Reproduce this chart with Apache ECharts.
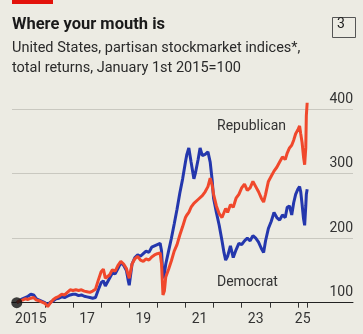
<!DOCTYPE html>
<html><head><meta charset="utf-8">
<script src="https://cdn.jsdelivr.net/npm/echarts@6/dist/echarts.min.js"></script>
<style>html,body{margin:0;padding:0;background:#ecebe3;}#c{width:363px;height:334px;}</style>
</head><body><div id="c"></div>
<script>
// Decimal years
var dates = [2015.00,2015.10,2015.20,2015.30,2015.40,2015.50,2015.60,2015.70,2015.80,2015.90,
2016.00,2016.10,2016.20,2016.30,2016.40,2016.50,2016.60,2016.70,2016.80,2016.90,
2017.00,2017.10,2017.20,2017.30,2017.40,2017.50,2017.60,2017.70,2017.80,2017.90,
2018.00,2018.08,2018.15,2018.30,2018.40,2018.50,2018.60,2018.70,2018.75,2018.80,2018.90,2018.97,
2019.00,2019.10,2019.20,2019.30,2019.40,2019.50,2019.60,2019.70,2019.80,2019.90,
2020.00,2020.10,2020.15,2020.20,2020.25,2020.30,2020.40,2020.50,2020.60,2020.70,2020.80,2020.90,
2021.00,2021.05,2021.12,2021.20,2021.30,2021.35,2021.45,2021.52,2021.60,2021.70,2021.80,2021.88,2021.95,
2022.00,2022.10,2022.20,2022.30,2022.37,2022.43,2022.50,2022.60,2022.70,2022.80,2022.90,
2023.00,2023.10,2023.20,2023.30,2023.40,2023.50,2023.60,2023.70,2023.78,2023.85,2023.95,
2024.05,2024.15,2024.25,2024.35,2024.45,2024.55,2024.62,2024.70,2024.78,2024.85,2024.92,
2025.00,2025.06,2025.10,2025.15,2025.20,2025.24,2025.28,2025.30,2025.33];
var republican = [100,103,104,106,105,107,108,104,103,101,
99,94,100,105,108,110,113,112,116,120,
119,120,119,120,118,117,116,118,121,135,
148,152,138,143,151,149,158,164,166,160,153,142,
138,160,168,172,166,164,168,166,171,174,
176,177,160,112,118,140,152,165,180,190,205,218,
232,236,240,248,254,257,260,262,266,272,280,293,282,
268,250,238,232,235,246,240,252,248,262,268,
278,284,274,278,288,280,272,262,256,268,288,
296,304,310,318,326,322,332,340,344,352,362,
368,374,362,348,326,314,340,390,410];
var democrat = [100,103,106,108,110,113,112,106,104,102,
100,97,101,103,106,107,109,108,110,112,
113,113,111,112,110,109,108,107,108,120,
131,134,126,138,146,145,153,162,164,158,150,133,
127,160,170,174,172,176,180,178,186,188,
190,192,180,138,145,160,180,200,222,245,270,292,
318,330,340,318,292,300,322,340,328,330,334,318,290,
262,240,220,196,178,166,172,188,170,182,192,
190,196,200,196,204,200,194,184,178,196,215,
226,240,232,228,236,232,248,250,236,255,268,
276,280,272,252,230,220,250,268,276];
var yTicks = [100, 200, 300, 400];
var xTickYears = [2016,2017,2018,2019,2020,2021,2022,2023,2024,2025,2025.33];
var xLabelPos = [2015.5, 2017.5, 2019.5, 2021.5, 2023.5, 2025.17];
var xLabelText = ["2015", "17", "19", "21", "23", "25"];

function pairs(v){ return dates.map(function(d,i){ return [d, v[i]]; }); }
var labelMap = {};
xLabelPos.forEach(function(p,i){ labelMap[p.toFixed(2)] = xLabelText[i]; });

var FONT = 'Roboto';
var chart = echarts.init(document.getElementById('c'), null, {renderer:'canvas'});
chart.setOption({
  backgroundColor: '#ecebe3',
  animation: false,
  textStyle: {fontFamily: FONT},
  grid: {left: 12, right: 10, top: 109.2, bottom: 31.3},
  xAxis: {
    type: 'value', min: 2014.83, max: 2026.96,
    splitLine: {show: false},
    axisLine: {show: true, lineStyle: {color: '#222', width: 1}},
    axisTick: {show: true, length: 5, lineStyle: {color: '#333'}, customValues: xTickYears},
    axisLabel: {show: true, customValues: xLabelPos, margin: 10, fontSize: 14, color: '#333', fontFamily: FONT,
      formatter: function(v){ return labelMap[Number(v).toFixed(2)] || ''; }}
  },
  yAxis: {
    type: 'value', position: 'right', min: 100, max: 400, interval: 100,
    axisLine: {show: false}, axisTick: {show: false},
    splitLine: {show: true, lineStyle: {color: '#c9c8c0', width: 1}},
    axisLabel: {inside: true, margin: 0, fontSize: 14, color: '#333', fontFamily: FONT,
      verticalAlign: 'bottom', align: 'right', padding: [0,0,3,0],
      customValues: yTicks}
  },
  series: [
    {type: 'line', name: 'Democrat', data: pairs(democrat), showSymbol: false, clip: false,
      lineStyle: {color: '#2437ad', width: 3}, itemStyle:{color:'#2437ad'}, z: 3},
    {type: 'line', name: 'Republican', data: pairs(republican), showSymbol: false, clip: false,
      lineStyle: {color: '#f0482c', width: 3}, itemStyle:{color:'#f0482c'}, z: 4},
    {type: 'scatter', data: [[dates[0], republican[0]]], symbolSize: 11, clip: false,
      itemStyle: {color: '#111'}, z: 6}
  ],
  graphic: [
    {type: 'rect', left: 12, top: 0, shape: {width: 41, height: 4}, style: {fill: '#e3120b'}},
    {type: 'text', left: 12, top: 16, style: {text: 'Where your mouth is', font: 'bold 16.5px ' + FONT, fill: '#1a1a1a'}},
    {type: 'rect', left: 330, top: 15, shape: {width: 23, height: 20}, style: {fill: 'none', stroke: '#555', lineWidth: 1}},
    {type: 'text', left: 337, top: 17, style: {text: '3', font: '14px ' + FONT, fill: '#222'}},
    {type: 'text', left: 12, top: 41, style: {text: 'United States, partisan stockmarket indices*,', font: '14.5px ' + FONT, fill: '#2a2a2a'}},
    {type: 'text', left: 12, top: 61, style: {text: 'total returns, January 1st 2015=100', font: '14.5px ' + FONT, fill: '#2a2a2a'}},
    {type: 'text', left: 217, top: 119, style: {text: 'Republican', font: '14px ' + FONT, fill: '#333'}},
    {type: 'text', left: 217, top: 275, style: {text: 'Democrat', font: '14px ' + FONT, fill: '#333'}}
  ]
});
</script></body></html>
